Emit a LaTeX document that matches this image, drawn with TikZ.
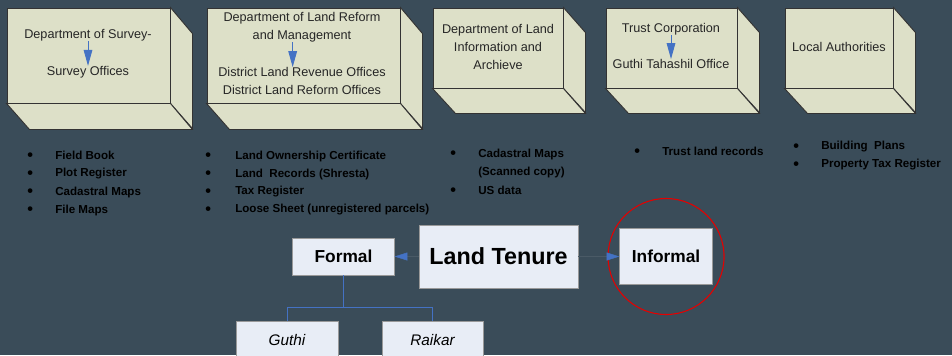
\documentclass[tikz,border=0pt]{standalone}
\usepackage{fontspec}
\setmainfont{Liberation Sans}
\usepackage{tikz}
\usetikzlibrary{positioning, arrows.meta}

\definecolor{slate}{HTML}{3A4C59}
\definecolor{boxfill}{HTML}{DDE0C8}
\definecolor{tenurefill}{HTML}{E8EDF6}
\definecolor{arrowblue}{HTML}{4472C4}

\newcommand{\recbullet}[1]{\makebox[#1][l]{\raisebox{-0.25ex}{\scalebox{1.4}{\textbullet}}}}

\begin{document}
\begin{tikzpicture}[x=0.75pt, y=-0.75pt, % one unit = one pixel of the slide
    cubeface/.style={draw=black!80, fill=boxfill, line width=0.7pt},
    front/.style={cubeface, rectangle, inner sep=0pt},
    boxtext/.style={font=\fontsize{9.5}{13.5}\selectfont, text=black!85, align=center, inner sep=0pt},
    flowarrow/.style={-{Triangle[length=12pt, width=6.5pt]}, arrowblue, line width=0.7pt},
    item/.style={anchor=west, inner sep=0pt, font=\fontsize{8.7}{10}\selectfont\bfseries, text=black},
    tenure/.style={draw=black!40, fill=tenurefill, inner sep=0pt},
    kind/.style={draw=black!40, fill=tenurefill, inner sep=0pt, font=\fontsize{11.5}{13}\selectfont\itshape},
    tenurearrow/.style={-{Triangle[length=9.5pt, width=6pt, color=arrowblue]}, draw=slate!92!white, line width=0.3pt},
    treeline/.style={draw=arrowblue, line width=0.7pt}]

    \useasboundingbox (0,0) rectangle (952,355);
    \fill[slate] (0,0) rectangle (952,355);
    \clip (0,0) rectangle (952,355);

    % 1. Offices drawn as boxes: front face, right face, bottom face
    \foreach \n/\cx/\cy/\w/\h/\dx/\dy in {survey/88.5/55.5/163/95/22/26, reform/303.5/55.5/193/95/22/26,
        info/498/48/130/80/22/25, trust/671.5/48/131/80/22/25, local/839/48/108/80/22/25} {
        \node[front, minimum width=\w*0.75pt, minimum height=\h*0.75pt] (\n) at (\cx,\cy) {};
        \draw[cubeface] (\n.north east) -- ++(\dx,\dy) -- ++(0,\h) -- (\n.south east) -- cycle;
        \draw[cubeface] (\n.south west) -- (\n.south east) -- ++(\dx,\dy) -- ++(-\w,0) -- cycle;
    }

    % 2. Text in the boxes
    \node[boxtext] (svdept) at (88,35) {Department of Survey-};
    \node[boxtext] (svoff) at (88,72) {Survey Offices};
    \draw[flowarrow] (svdept) -- (svoff);

    \node[boxtext] (lrdept) at (302,27) {Department of Land Reform\\and Management};
    \node[boxtext] (lroff) at (302,81) {District Land Revenue Offices\\District Land Reform Offices};
    \draw[flowarrow] ([xshift=-7pt]lrdept.south) -- ([xshift=-7pt]lroff.north);

    \node[boxtext] (lis) at (498,47) {Department of Land\\Information and\\Archieve};

    \node[boxtext] (trustco) at (671,29) {Trust Corporation};
    \node[boxtext] (guthioff) at (671,64) {Guthi Tahashil Office};
    \draw[flowarrow] (trustco) -- (guthioff);

    \node[boxtext] (localauth) at (839,47) {Local Authorities};

    % 3. Records kept by each office
    \foreach \t [count=\i] in {Field Book, Plot Register, Cadastral Maps, File Maps}
        \node[item] (svrec\i) at (27,138+18*\i) {\recbullet{21pt}\t};
    \foreach \t [count=\i] in {Land Ownership Certificate, Land\ \ Records (Shresta), Tax Register, Loose Sheet (unregistered parcels)}
        \node[item] (lrrec\i) at (205,138+18*\i) {\recbullet{22.5pt}\t};
    \node[item] (lisrec1) at (450,154) {\recbullet{21pt}Cadastral Maps};
    \node[item] (lisrec2) at (478,172) {(Scanned copy)};
    \node[item] (lisrec3) at (450,191) {\recbullet{21pt}US data};
    \node[item] (trustrec) at (634,152) {\recbullet{21pt}Trust land records};
    \node[item] (localrec1) at (793,147) {\recbullet{21pt}Building\ \ Plans};
    \node[item] (localrec2) at (793,165) {\recbullet{21pt}Property Tax Register};

    % 4. Land tenure and its kinds
    \node[tenure, minimum width=159*0.75pt, minimum height=63*0.75pt,
          font=\fontsize{17.5}{20}\selectfont\bfseries] (tenure) at (498.5,256.5) {Land Tenure};
    \node[tenure, minimum width=102*0.75pt, minimum height=37*0.75pt,
          font=\fontsize{13}{15}\selectfont\bfseries, left=18pt of tenure] (formal) {Formal};
    \node[tenure, minimum width=93*0.75pt, minimum height=56*0.75pt,
          font=\fontsize{13}{15}\selectfont\bfseries, right=30.75pt of tenure] (informal) {Informal};
    \node[draw=red!90!black, line width=0.8pt, circle, minimum size=116*0.75pt] (ring) at (informal) {};

    \draw[tenurearrow] (tenure) -- (formal);
    \draw[tenurearrow] (tenure) -- (informal);

    \node[kind, minimum width=102*0.75pt, minimum height=38*0.75pt] (guthi) at (287,340) {Guthi};
    \node[kind, minimum width=101*0.75pt, minimum height=38*0.75pt] (raikar) at (432.5,340) {Raikar};
    \draw[treeline] (formal.south) -- ++(0,32) coordinate (fork) -| (guthi.north);
    \draw[treeline] (fork) -| (raikar.north);
\end{tikzpicture}
\end{document}
